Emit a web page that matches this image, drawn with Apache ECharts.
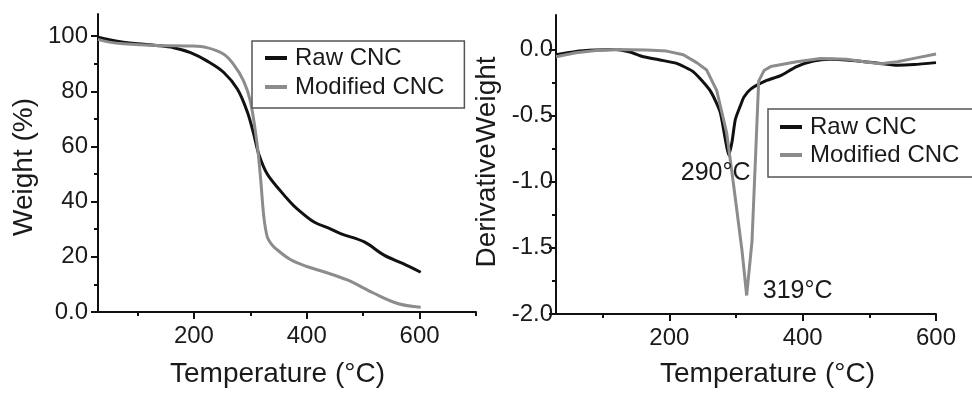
<!DOCTYPE html>
<html><head><meta charset="utf-8">
<script src="https://cdn.jsdelivr.net/npm/echarts@6/dist/echarts.min.js"></script>
<style>html,body{margin:0;padding:0;background:#fff}#c{width:972px;height:393px}</style>
</head><body><div id="c"></div>
<script>
// ---- TGA (left panel) ----
const tgaTempRaw = [30,50,75,100,134,164,194,223,253,277,294,306,315,330,353,371,383,413,440,460,502,537,570,602];
const tgaWeightRaw = [99.6,98.7,97.8,97.2,96.6,95.8,94.0,91.0,86.8,80.8,72.9,64.5,57.2,50.0,44.0,39.8,37.4,32.6,30.3,28.4,25.4,20.6,17.6,14.4];
const tgaTempMod = [30,50,75,134,194,223,253,270,288,300,312,318,324,330,336,345,371,400,430,472,519,561,602];
const tgaWeightMod = [98.8,97.8,97.2,96.6,96.4,95.8,93.4,89.8,83.8,76.5,60.9,48.9,34.4,27.2,25.0,23.0,19.0,16.5,14.6,11.6,6.8,3.1,1.7];
// ---- DTG (right panel) ----
const dtgTempRaw = [30,60,90,120,141,161,186,211,236,261,276,284,289,294,299,307,312,322,346,366,391,416,441,466,492,517,542,567,600];
const dtgRaw = [-0.04,-0.015,-0.005,0.0,-0.02,-0.056,-0.08,-0.106,-0.17,-0.31,-0.47,-0.68,-0.8,-0.7,-0.53,-0.42,-0.36,-0.3,-0.235,-0.2,-0.13,-0.088,-0.075,-0.08,-0.093,-0.106,-0.12,-0.115,-0.1];
const dtgTempMod = [30,60,90,120,166,196,221,241,256,271,286,296,309,316,324,329,334,342,352,391,427,466,492,517,542,567,600];
const dtgMod = [-0.056,-0.025,-0.008,0.0,-0.005,-0.013,-0.04,-0.1,-0.156,-0.31,-0.63,-1.01,-1.52,-1.86,-1.45,-0.85,-0.24,-0.16,-0.13,-0.093,-0.068,-0.075,-0.093,-0.108,-0.093,-0.068,-0.035];
// ---- peaks / ticks ----
const peakRaw = [289, -0.8, '290°C'];
const peakMod = [316, -1.86, '319°C'];
const seriesNames = ['Raw CNC', 'Modified CNC'];
const xMajorTicks = [200, 400, 600];
const xMinorTicksL = [100, 300, 500, 700];
const xMinorTicksR = [100, 300, 500];
const yMajorTicksL = [0, 20, 40, 60, 80, 100];
const yMinorTicksL = [10, 30, 50, 70, 90];
const yMajorTicksR = [-2, -1.5, -1, -0.5, 0];
const yMinorTicksR = [-1.75, -1.25, -0.75, -0.25];

const zip = (a, b) => a.map((v, i) => [v, b[i]]);
const FONT = 'Liberation Sans, Arial, sans-serif';
const TXT = '#1a1a1a';
const axisLineStyle = { color: '#111', width: 2 };

function xAxisMajor(grid, min, max, name, pad, gap) {
  return {
    type: 'value', gridIndex: grid, min, max, position: 'bottom',
    splitLine: { show: false },
    axisLine: { show: true, onZero: false, lineStyle: axisLineStyle },
    axisTick: { show: true, inside: false, length: 7, lineStyle: { color: '#111', width: 2 }, customValues: xMajorTicks },
    axisLabel: { customValues: xMajorTicks, fontSize: 24, fontFamily: FONT, color: TXT, margin: 12 },
    name, nameLocation: 'middle', nameGap: gap,
    nameTextStyle: { fontSize: 28, fontFamily: FONT, color: TXT, padding: pad }
  };
}
function xAxisMinor(grid, min, max, ticks) {
  return {
    type: 'value', gridIndex: grid, min, max, position: 'bottom',
    splitLine: { show: false },
    axisLine: { show: false, onZero: false },
    axisTick: { show: true, inside: false, length: 4, lineStyle: { color: '#111', width: 2 }, customValues: ticks },
    axisLabel: { show: false }
  };
}
function yAxisMajor(grid, min, max, ticks, fmt, margin, name, pad, gap) {
  return {
    type: 'value', gridIndex: grid, min, max, position: 'left',
    splitLine: { show: false },
    axisLine: { show: true, onZero: false, lineStyle: axisLineStyle },
    axisTick: { show: true, inside: false, length: 7, lineStyle: { color: '#111', width: 2 }, customValues: ticks },
    axisLabel: { customValues: ticks, formatter: fmt, fontSize: 24, fontFamily: FONT, color: TXT, margin },
    name, nameLocation: 'middle', nameGap: gap,
    nameTextStyle: { fontSize: 28, fontFamily: FONT, color: TXT, padding: pad }
  };
}
function yAxisMinor(grid, min, max, ticks) {
  return {
    type: 'value', gridIndex: grid, min, max, position: 'left',
    splitLine: { show: false },
    axisLine: { show: false, onZero: false },
    axisTick: { show: true, inside: false, length: 4, lineStyle: { color: '#111', width: 2 }, customValues: ticks },
    axisLabel: { show: false }
  };
}

const BLACK = '#111111', GRAY = '#8c8c8c';
function peakMark(p, offset) {
  return {
    symbol: 'circle', symbolSize: 1, silent: true,
    itemStyle: { color: 'rgba(0,0,0,0)' },
    label: { show: true, position: 'inside', formatter: p[2], offset, fontSize: 25, fontFamily: FONT, color: TXT },
    data: [{ coord: [p[0], p[1]] }]
  };
}

const legendBase = {
  orient: 'vertical', icon: 'rect', itemWidth: 22, itemHeight: 4,
  borderColor: '#555', borderWidth: 1.5, backgroundColor: '#fff',
  textStyle: { fontSize: 24, fontFamily: FONT, color: TXT, padding: [0, 0, 0, 3] },
  data: seriesNames, selectedMode: false
};

const option = {
  animation: false,
  backgroundColor: '#fff',
  grid: [
    { left: 98, top: 14, width: 378, height: 298 },
    { left: 556, top: 15, width: 380, height: 299 }
  ],
  xAxis: [
    xAxisMajor(0, 30, 700, 'Temperature (°C)', [0, 19, 0, 0], 48),
    xAxisMinor(0, 30, 700, xMinorTicksL),
    xAxisMajor(1, 30, 600, 'Temperature (°C)', [0, 0, 0, 43], 46),
    xAxisMinor(1, 30, 600, xMinorTicksR)
  ],
  yAxis: [
    yAxisMajor(0, 0, 108, yMajorTicksL, v => v === 0 ? '0.0' : String(v), 10, 'Weight (%)', [0, 8, 0, 0], 60),
    yAxisMinor(0, 0, 108, yMinorTicksL),
    yAxisMajor(1, -2, 0.26, yMajorTicksR, v => v.toFixed(1), 3, 'DerivativeWeight', [0, 0, 0, 5], 55),
    yAxisMinor(1, -2, 0.26, yMinorTicksR)
  ],
  legend: [
    Object.assign({}, legendBase, { left: 252, top: 41, padding: [5, 20, 9, 13], itemGap: 5 }),
    Object.assign({}, legendBase, { left: 768, top: 109, padding: [6, 20, 10, 12], itemGap: 4 })
  ],
  series: [
    { name: seriesNames[0], type: 'line', xAxisIndex: 0, yAxisIndex: 0, data: zip(tgaTempRaw, tgaWeightRaw),
      smooth: 0.35, showSymbol: false, color: BLACK, lineStyle: { width: 3, color: BLACK } },
    { name: seriesNames[1], type: 'line', xAxisIndex: 0, yAxisIndex: 0, data: zip(tgaTempMod, tgaWeightMod),
      smooth: 0.35, showSymbol: false, color: GRAY, lineStyle: { width: 3, color: GRAY } },
    { name: seriesNames[0], type: 'line', xAxisIndex: 2, yAxisIndex: 2, data: zip(dtgTempRaw, dtgRaw),
      smooth: 0.2, showSymbol: false, color: BLACK, lineStyle: { width: 3, color: BLACK },
      markPoint: peakMark(peakRaw, [-13, 18]) },
    { name: seriesNames[1], type: 'line', xAxisIndex: 2, yAxisIndex: 2, data: zip(dtgTempMod, dtgMod),
      smooth: false, showSymbol: false, color: GRAY, lineStyle: { width: 3, color: GRAY },
      markPoint: peakMark(peakMod, [51, -4]) }
  ]
};
const chart = echarts.init(document.getElementById('c'), null, { renderer: 'canvas' });
chart.setOption(option);
</script>
</body></html>
